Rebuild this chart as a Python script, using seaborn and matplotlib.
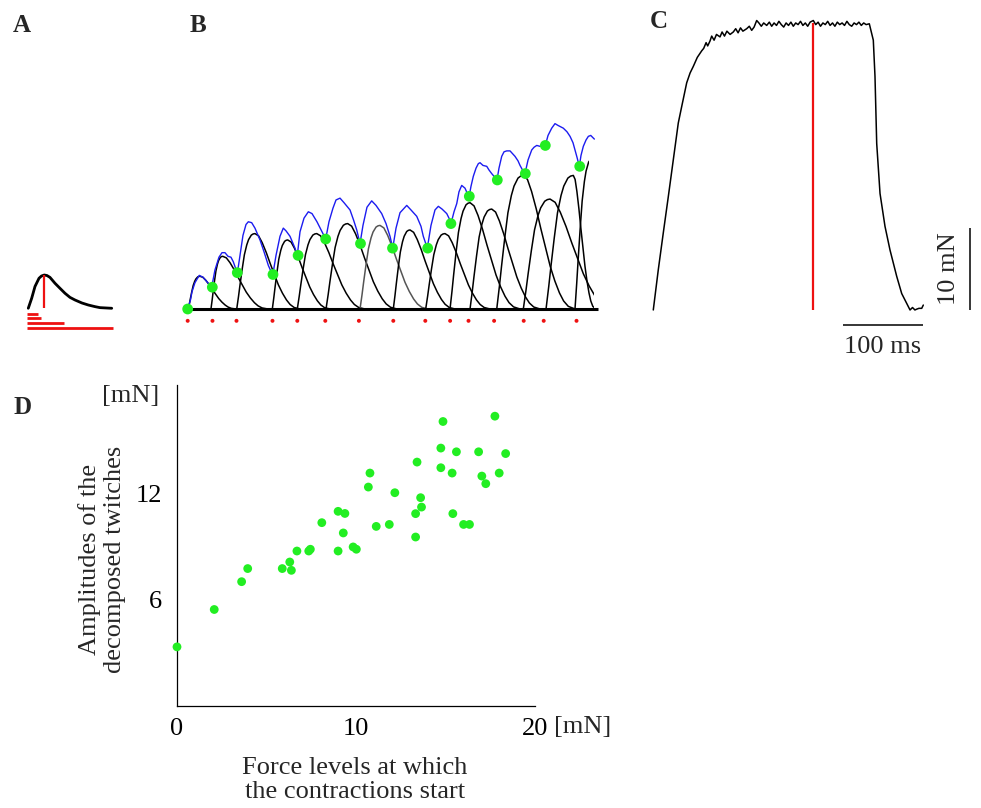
import numpy as np
import pandas as pd
import matplotlib
matplotlib.use("Agg")
import matplotlib.pyplot as plt
from matplotlib.patches import Rectangle
import seaborn as sns

sns.set_theme(style="white")
plt.rcParams['font.family'] = ['Liberation Serif', 'DejaVu Serif']

# ---------------- Panel A : single twitch (ms, mN) ----------------
a_time = [0, 4.25, 8.4, 13.4, 16.5, 20, 23.4, 27.1, 33.4, 39.6, 45.9, 52.1, 58.4, 67.1, 75, 83.4, 89.6, 104.3]
a_force = [0, 1.1, 2.4, 3.3, 3.55, 3.66, 3.6, 3.4, 2.75, 2.2, 1.65, 1.2, 0.91, 0.58, 0.36, 0.18, 0.07, 0]
a_peak_time = 20
a_bar_ends = [11.75, 15.9, 45, 106.3]
a_bar_levels = [-0.63, -1.1, -1.58, -2.13]

# ---------------- Panel B : decomposition ----------------
b_stim_times = [0, 31, 61, 106, 137, 172, 214, 257, 297, 328, 351, 383, 420, 445, 486]
b_onset_t = [0, 30.8, 62, 106.6, 138, 172.5, 216, 256, 300, 329, 352, 387, 422, 447, 490]
b_onset_f = [0, 2.4, 4.0, 3.8, 5.9, 7.7, 7.2, 6.7, 6.7, 9.4, 12.4, 14.2, 14.9, 18.0, 15.7]
b_tw_onset = [0.75, 29.1, 61.3, 105.8, 137, 172.9, 215.4, 257, 297.5, 327.9, 352.9, 386.3, 419.5, 447.9, 484.1]
b_tw_peak = [15.4, 43.8, 84.1, 125, 161.3, 200, 240.4, 277.9, 321.6, 352.9, 380, 419.5, 452.9, 482, 505.4]
b_tw_end = [60.4, 100.4, 140.4, 177.9, 221.6, 261.6, 300.4, 334.1, 377.9, 415.4, 440.4, 484.1, 533, 510, 565]
b_tw_amp = [3.6, 5.8, 8.3, 7.6, 8.3, 9.4, 9.2, 8.7, 8.3, 11.7, 11.0, 14.7, 12.1, 14.7, 16.5]
b_tw_cut = [508, 508, 508, 508, 508, 508, 508, 508, 508, 508, 508, 508, 508, 508, 501]
# normalised twitch shape
tw_rise_u = [0, 0.1, 0.18, 0.3, 0.42, 0.55, 0.65, 0.8, 0.9, 1.0]
tw_rise_f = [0, 0.17, 0.32, 0.53, 0.72, 0.85, 0.92, 0.98, 0.995, 1.0]
tw_decay_v = [0.08, 0.16, 0.25, 0.34, 0.43, 0.52, 0.61, 0.70, 0.78, 0.87, 1.0]
tw_decay_f = [0.97, 0.88, 0.75, 0.6, 0.46, 0.32, 0.21, 0.12, 0.06, 0.02, 0]

b_blue_t = [0, 3.5, 5.4, 9.1, 14.5, 19.1, 24.1, 30,
            34.1, 39.1, 42.9, 46.6, 50.4, 54.1, 57, 59.8, 62,
            65.4, 69.1, 72.9, 75.8, 80, 84.1, 90.4, 95.4, 100.8, 106.3,
            110.4, 115.4, 119.5, 122.9, 127.9, 134.1, 137,
            140.4, 145.4, 150.8, 155.4, 161.6, 167.9, 172.5,
            176.6, 181.6, 185.4, 190.4, 195.4, 202.9, 207.3, 211.3, 215.4,
            219.1, 224.1, 230, 235.4, 242.5, 247.9, 252.9, 256.3,
            260.4, 265.4, 273.8, 279.1, 286.3, 291.6, 294.5, 299.5,
            304.1, 309.1, 313.3, 317.9, 323.8, 326.6, 329.1,
            332.9, 336.3, 339.1, 342.5, 346.6, 351.6,
            354.1, 357, 360.4, 363.3, 365.4, 369.1, 373.8, 376.6, 380, 382.9, 386.6,
            389.1, 392.5, 395.4, 398.8, 402.9, 409.1, 412.9, 415.4, 418.5, 421.6,
            425.4, 430, 432.9, 436.3, 440.4, 444.1, 447,
            450.4, 455, 459.1, 462.9, 469.5, 474.1, 477.9, 481.6, 484.1, 486.6, 489.5,
            491.6, 494.5, 497.9, 500.8, 503.8, 506, 508.3]
b_blue_f = [0, 1.0, 1.9, 2.9, 3.7, 3.5, 3.0, 2.4,
            4.3, 5.7, 6.2, 6.2, 5.8, 5.7, 5.2, 4.5, 3.9,
            5.9, 8.1, 9.3, 9.6, 9.5, 8.9, 7.6, 6.3, 4.8, 3.7,
            5.9, 8.0, 8.9, 8.6, 8.0, 6.7, 5.9,
            8.5, 10.0, 10.7, 10.5, 9.6, 8.5, 7.7,
            9.6, 11.1, 12.0, 12.2, 11.7, 10.9, 9.8, 8.7, 7.2,
            9.2, 11.2, 11.9, 11.4, 10.5, 9.4, 8.0, 6.7,
            8.9, 10.6, 11.4, 10.9, 10.2, 9.1, 8.0, 6.7,
            9.2, 10.9, 11.3, 11.0, 10.5, 10.0, 9.4,
            10.7, 11.6, 12.9, 13.6, 13.3, 12.3,
            13.5, 14.6, 15.5, 16.0, 16.1, 15.8, 15.7, 15.3, 14.9, 14.6, 14.2,
            15.5, 16.8, 17.3, 17.4, 17.4, 16.8, 16.3, 15.8, 15.3, 14.9,
            16.4, 17.5, 17.8, 18.0, 17.9, 17.9, 18.0,
            19.1, 19.9, 20.4, 20.2, 19.9, 19.5, 19.0, 18.3, 17.5, 16.7, 15.7,
            16.9, 17.9, 18.6, 19.0, 19.1, 18.9, 18.7]
b_record_end = 513

# ---------------- Panel C : tetanus ----------------
c_time = [0, 6.25, 12.5, 18.75, 25, 31.25, 35.5, 41.75, 46, 50,
          55, 60.5, 63, 66, 68, 70.9, 73, 76, 79, 83.4,
          86, 89, 92, 96, 100, 103, 106, 109, 112, 116.75,
          120, 123, 126, 129.25, 132, 135, 138, 141.75, 145, 148,
          151, 154, 157, 160, 163, 166, 169, 172, 175, 178,
          181, 184, 187, 190, 193, 196, 200, 203, 206, 209,
          212, 215, 218, 221, 224, 227, 230, 233, 236, 239,
          242, 245, 248, 251, 254, 257, 260, 263, 266, 270,
          275, 277.1, 279.25, 283.4, 289.6, 295.9, 304.25, 310.5, 316.75, 320.9,
          324, 327, 329.25, 332, 335.5, 337.5]
c_force = [0, 4.9, 9.4, 13.8, 18.3, 22.8, 24.8, 27.7, 28.9, 29.7,
           30.8, 31.6, 31.9, 32.6, 32.2, 32.8, 33.4, 32.9, 33.6, 33.3,
           33.9, 33.4, 34.0, 33.6, 33.9, 34.3, 33.8, 34.4, 34.0, 34.3,
           34.6, 34.1, 34.5, 35.3, 35.0, 34.6, 35.0, 34.7, 35.1, 34.6,
           35.0, 34.7, 35.2, 34.8, 34.5, 35.0, 34.7, 35.1, 34.6, 35.0,
           34.8, 35.2, 34.7, 35.0, 34.6, 35.1, 35.3, 34.8, 35.1, 34.6,
           35.0, 34.8, 35.2, 34.7, 35.0, 34.6, 35.1, 34.8, 35.0, 34.7,
           35.2, 34.8, 34.6, 35.0, 34.8, 35.1, 34.7, 35.0, 34.8, 34.9,
           32.9, 28.5, 20.3, 14.2, 10.2, 7.3, 4.1, 2.0, 0.8, 0,
           0.3, 0, 0.1, 0.2, 0.2, 0.6]
c_marker_time = 200
c_marker_force = 35.0
c_bar_ms = 100
c_bar_mN = 10

# ---------------- Panel D : scatter ----------------
d_force_level = [0, 2.08, 3.61, 3.95, 5.88, 6.30, 6.39, 6.70, 7.36, 7.45,
                 8.09, 9.0, 9.0, 9.38, 9.29, 9.84, 10.02, 10.69, 10.78, 11.13,
                 11.86, 12.17, 13.33, 13.33, 13.41, 13.61, 13.66, 14.74, 14.74, 14.86,
                 15.37, 15.41, 15.61, 16.01, 16.34, 16.85, 17.03, 17.25, 17.76, 18.0,
                 18.36]
d_amplitude = [3.32, 5.43, 7.0, 7.74, 7.74, 8.11, 7.64, 8.73, 8.73, 8.83,
               10.33, 8.73, 10.97, 10.85, 9.75, 8.96, 8.83, 12.34, 13.13, 10.12,
               10.23, 12.02, 9.52, 10.84, 13.75, 11.74, 11.21, 13.43, 14.54, 16.04,
               13.13, 10.84, 14.33, 10.23, 10.23, 14.33, 12.96, 12.53, 16.34, 13.13,
               14.23]
d_xticks = [0, 10, 20]
d_yticks = [6, 12]

GREEN = "#22ee22"
RED = "#ee1111"
BLUE = "#1c1cf0"

W, H = 981, 808
fig = plt.figure(figsize=(W / 100, H / 100), dpi=100)


def px_axes(x0, y0, x1, y1):
    return fig.add_axes([x0 / W, 1 - y1 / H, (x1 - x0) / W, (y1 - y0) / H])


# ---- A ----
axA = px_axes(15, 250, 125, 335)
axA.set_xlim(-16.6, 120.9)
axA.set_ylim(-2.94, 6.41)
sns.lineplot(x=a_time, y=a_force, ax=axA, color="black", lw=2.0, sort=False, estimator=None)
axA.vlines(a_peak_time, 0, max(a_force), color=RED, lw=1.6)
axA.hlines(a_bar_levels, -2, a_bar_ends, color=RED, lw=2.0)
axA.axis("off")

# ---- B ----
axB = px_axes(180, 100, 605, 335)
axB.set_xlim(-9.6, 521.6)
axB.set_ylim(-2.86, 23.0)
for i in range(len(b_tw_onset)):
    tr = [b_tw_onset[i] + u * (b_tw_peak[i] - b_tw_onset[i]) for u in tw_rise_u]
    td = [b_tw_peak[i] + v * (b_tw_end[i] - b_tw_peak[i]) for v in tw_decay_v]
    fvals = [f * b_tw_amp[i] for f in tw_rise_f + tw_decay_f]
    col = "#555555" if i == 6 else "black"
    ln, = axB.plot(tr + td, fvals, color=col, lw=1.1)
    clip = Rectangle((-50, -5), b_tw_cut[i] + 50, 40, transform=axB.transData)
    ln.set_clip_path(clip)
axB.hlines(0, 0, b_record_end, color="black", lw=2.2)
sns.lineplot(x=b_blue_t, y=b_blue_f, ax=axB, color=BLUE, lw=1.0, sort=False, estimator=None)
sns.scatterplot(x=b_onset_t, y=b_onset_f, ax=axB, color=GREEN, s=60, edgecolor="none", zorder=5)
sns.scatterplot(x=b_stim_times, y=[-1.3] * len(b_stim_times), ax=axB, color=RED, s=8,
                edgecolor="none", zorder=5)
axB.axis("off")

# ---- C ----
axC = px_axes(620, 0, 981, 360)
axC.set_xlim(-41.6, 409.6)
axC.set_ylim(-6.1, 37.8)
sns.lineplot(x=c_time, y=c_force, ax=axC, color="black", lw=1.1, sort=False, estimator=None)
axC.vlines(c_marker_time, 0, c_marker_force, color=RED, lw=1.6)
bar_x0 = 237
axC.hlines(-1.83, bar_x0, bar_x0 + c_bar_ms, color="black", lw=1.1)
axC.text(bar_x0 + c_bar_ms / 2, -4.5, f"{c_bar_ms} ms", ha="center", va="center", fontsize=19)
axC.vlines(396, 0, c_bar_mN, color="black", lw=1.1)
axC.text(369, c_bar_mN / 2, f"{c_bar_mN} mN", ha="center", va="center", rotation=90, fontsize=19)
axC.axis("off")

# ---- D ----
axD = px_axes(177, 385, 535, 705.7)
sns.scatterplot(x=d_force_level, y=d_amplitude, ax=axD, color=GREEN, s=40, edgecolor="none",
                clip_on=False, zorder=5)
axD.set_xlim(0, 20)
axD.set_ylim(0, 18.1)
for s in ["top", "right"]:
    axD.spines[s].set_visible(False)
for s in ["left", "bottom"]:
    axD.spines[s].set_color("black")
    axD.spines[s].set_linewidth(0.9)
axD.set_xticks(np.arange(0, 21, 2))
axD.set_xticklabels([str(v) if v in d_xticks else "" for v in np.arange(0, 21, 2)])
axD.set_yticks(np.arange(0, 18, 2))
axD.set_yticklabels([str(v) if v in d_yticks else "" for v in np.arange(0, 18, 2)])
axD.tick_params(direction="in", length=4, width=0.8, colors="black", labelsize=19, pad=9)
axD.tick_params(axis="y", pad=11)
axD.text(1.052, -0.066, "[mN]", transform=axD.transAxes, ha="left", va="center", fontsize=19)
axD.text(-0.129, 0.966, "[mN]", transform=axD.transAxes, ha="center", va="center", fontsize=19)
axD.set_ylabel("Amplitudes of the\ndecomposed twitches", fontsize=19, linespacing=1.15)
axD.yaxis.set_label_coords(-0.21, 0.457)
axD.set_xlabel("Force levels at which\nthe contractions start", fontsize=19, linespacing=1.15)
axD.xaxis.set_label_coords(0.497, -0.232)
axD.xaxis.label.set_va("center")
axD.yaxis.label.set_va("center")

# ---- panel letters ----
for lab, (x, y) in {"A": (22, 26), "B": (198, 26), "C": (659, 22), "D": (23, 408)}.items():
    fig.text(x / W, 1 - y / H, lab, ha="center", va="center", fontsize=18, fontweight="bold")

fig.savefig("out.png", dpi=100, facecolor="white")
